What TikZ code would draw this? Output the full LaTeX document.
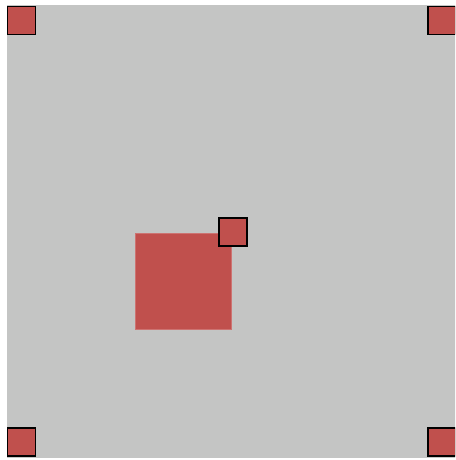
\documentclass[tikz,border=0pt]{standalone}
\definecolor{bggray}{HTML}{C4C5C4}
\definecolor{boxred}{HTML}{C0504D}
\tikzset{
  handle/.style={draw=black, line width=1.6pt, fill=boxred, minimum size=28pt, inner sep=0pt, outer sep=0pt, anchor=center},
  bigbox/.style={fill=boxred, draw=boxred!80!white, line width=0.6pt, minimum size=96pt, inner sep=0pt, anchor=center}
}
\begin{document}
\begin{tikzpicture}[x=1pt,y=-1pt]
\useasboundingbox (0,0) rectangle (455,460);
\begin{scope}
\clip (0,0) rectangle (455,460);
\fill[bggray] (7,5) rectangle (460,458);
\node[bigbox] (big) at (183,281) {};
\node[handle] (h) at (233,232) {};
\node[handle] (tl) at (21.5,20.5) {};
\node[handle] (tr) at (442,20.5) {};
\node[handle] (bl) at (21.5,442) {};
\node[handle] (br) at (442,442) {};
\end{scope}
\end{tikzpicture}
\end{document}
